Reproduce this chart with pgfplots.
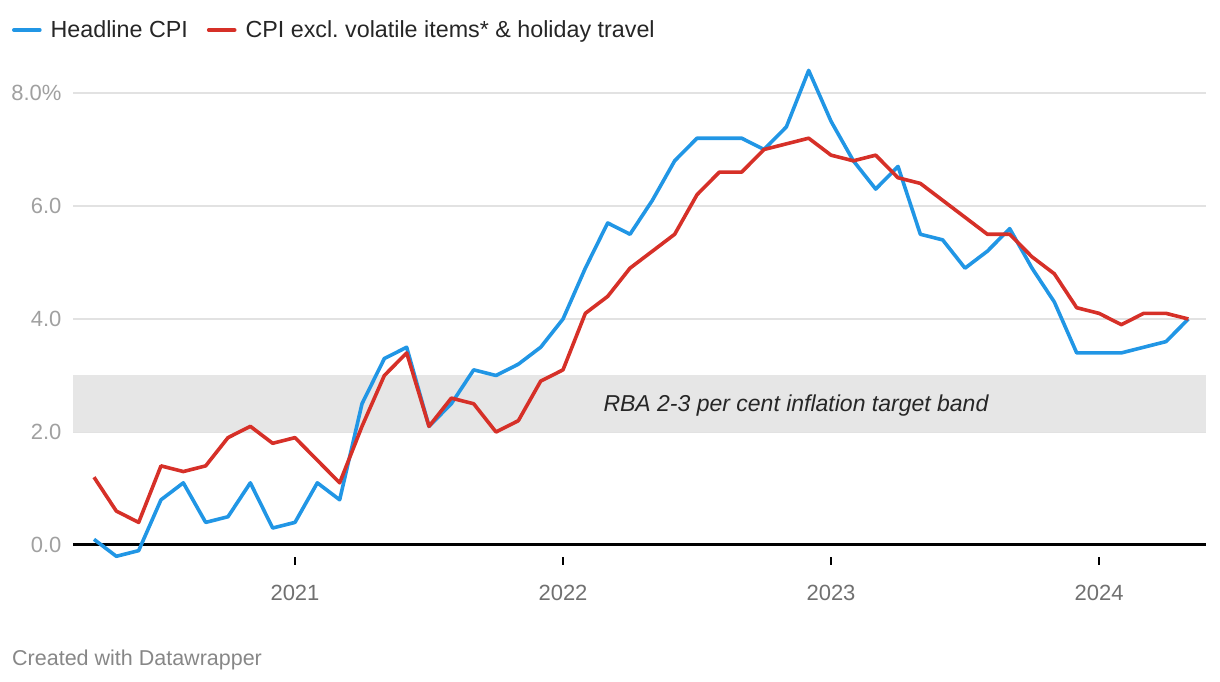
\documentclass[border=0pt]{standalone}
\usepackage{fontspec}
\setmainfont{Liberation Sans}
\usepackage{pgfplots}
\usepackage{pgfplotstable}
\pgfplotsset{compat=1.18}
\definecolor{cpiblue}{RGB}{33,150,229}
\definecolor{cpired}{RGB}{214,48,40}
\definecolor{bandgray}{RGB}{230,230,230}
\definecolor{gridgray}{RGB}{226,226,226}
\definecolor{ylabgray}{RGB}{160,160,160}
\definecolor{xlabgray}{RGB}{112,112,112}
\definecolor{legtext}{RGB}{38,38,38}
\definecolor{credgray}{RGB}{135,135,135}
\frenchspacing

\pgfplotstableread{
m headline core
-9 0.1 1.2
-8 -0.2 0.6
-7 -0.1 0.4
-6 0.8 1.4
-5 1.1 1.3
-4 0.4 1.4
-3 0.5 1.9
-2 1.1 2.1
-1 0.3 1.8
0 0.4 1.9
1 1.1 1.5
2 0.8 1.1
3 2.5 2.1
4 3.3 3.0
5 3.5 3.4
6 2.1 2.1
7 2.5 2.6
8 3.1 2.5
9 3.0 2.0
10 3.2 2.2
11 3.5 2.9
12 4.0 3.1
13 4.9 4.1
14 5.7 4.4
15 5.5 4.9
16 6.1 5.2
17 6.8 5.5
18 7.2 6.2
19 7.2 6.6
20 7.2 6.6
21 7.0 7.0
22 7.4 7.1
23 8.4 7.2
24 7.5 6.9
25 6.8 6.8
26 6.3 6.9
27 6.7 6.5
28 5.5 6.4
29 5.4 6.1
30 4.9 5.8
31 5.2 5.5
32 5.6 5.5
33 4.9 5.1
34 4.3 4.8
35 3.4 4.2
36 3.4 4.1
37 3.4 3.9
38 3.5 4.1
39 3.6 4.1
40 4.0 4.0
}\cpidata

\begin{document}
\begin{tikzpicture}
\begin{axis}[
  name=ax,
  scale only axis,
  width=1133pt, height=508.7pt,
  xmin=-9.94, xmax=40.79, ymin=-0.354, ymax=8.65,
  clip=false,
  axis line style={draw=none},
  xtick={0,12,24,36},
  xticklabels={2021,2022,2023,2024},
  ytick={0,2,4,6,8},
  yticklabels={0.0,2.0,4.0,6.0,8.0\%},
  xtick pos=bottom, ytick pos=left,
  tick align=inside,
  major tick length=8pt,
  xtick style={black, line width=1.3pt},
  ytick style={draw=none},
  ymajorgrids,
  grid style={gridgray, line width=1.5pt},
  xticklabel style={font=\fontsize{22}{26}\selectfont, text=xlabgray, yshift=-17pt},
  yticklabel style={font=\fontsize{22}{26}\selectfont, text=ylabgray, xshift=-8pt},
  legend columns=-1,
  legend style={at={(-0.0538,1.0517)}, anchor=west, draw=none, fill=none,
    inner sep=0pt, outer sep=0pt,
    font=\fontsize{23.3}{28}\selectfont, text=legtext,
    nodes={inner sep=0pt},
    /tikz/every odd column/.append style={column sep=9pt},
    /tikz/every even column/.append style={column sep=19pt}},
  legend image code/.code={\draw[#1, line cap=round] (0pt,0pt) -- (26pt,0pt);},
]
\addplot[draw=none, fill=bandgray, forget plot] coordinates {(-9.94,2) (40.79,2) (40.79,3) (-9.94,3)} -- cycle;
\addplot[black, line width=3pt, forget plot] coordinates {(-9.94,0) (40.79,0)};
\node[anchor=base, font=\itshape\fontsize{23}{27}\selectfont, text=legtext] at (axis cs:22.43,2.36) {RBA 2-3 per cent inflation target band};
\addplot[cpiblue, line width=3.6pt, line join=round] table[x=m, y=headline] {\cpidata};
\addlegendentry{Headline CPI}
\addplot[cpired, line width=3.6pt, line join=round] table[x=m, y=core] {\cpidata};
\addlegendentry{CPI excl. volatile items* \& holiday travel}
\end{axis}
\node[anchor=base west, inner sep=0pt, font=\fontsize{21.5}{25}\selectfont, text=credgray] at ([xshift=-61pt, yshift=-101pt]ax.south west) {Created with Datawrapper};
\pgfresetboundingbox
\useasboundingbox ([xshift=-73pt,yshift=-117pt]ax.south west) rectangle ([xshift=14pt,yshift=56.3pt]ax.north east);
\end{tikzpicture}
\end{document}
